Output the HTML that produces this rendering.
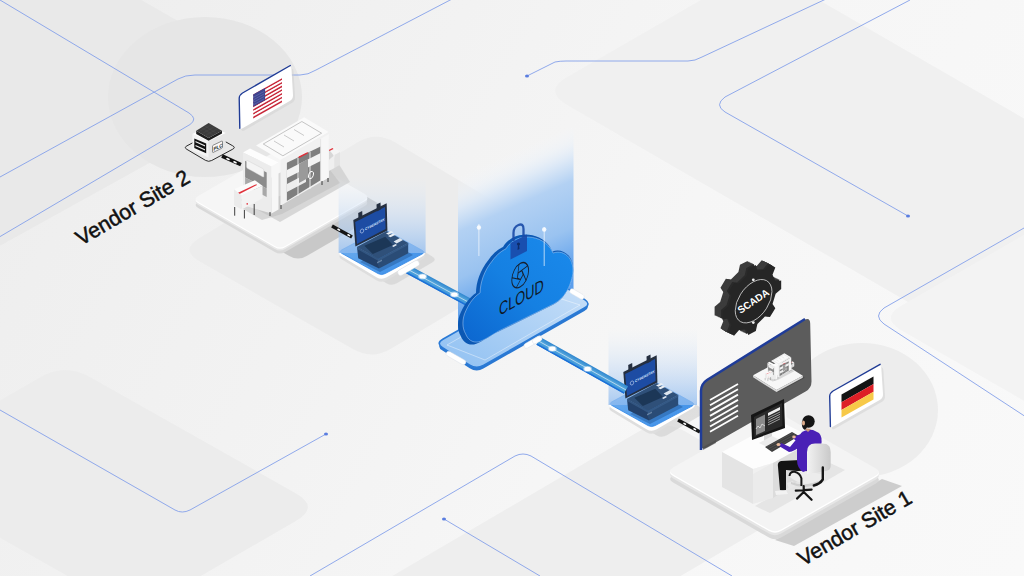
<!DOCTYPE html><html><head><meta charset="utf-8"><style>html,body{margin:0;padding:0;width:1024px;height:576px;overflow:hidden;background:#f0f0f0}svg{display:block}</style></head><body><svg width="1024" height="576" viewBox="0 0 1024 576">
<defs>
<linearGradient id="bg" x1="0" y1="0" x2="1024" y2="576" gradientUnits="userSpaceOnUse">
<stop offset="0" stop-color="#ededed"/><stop offset="0.35" stop-color="#f2f2f2"/><stop offset="0.6" stop-color="#f6f6f6"/><stop offset="1" stop-color="#f9f9f9"/></linearGradient>
<linearGradient id="glow" x1="0" y1="0" x2="0" y2="1">
<stop offset="0" stop-color="#e3edf9" stop-opacity="0"/><stop offset="0.5" stop-color="#c5daf4" stop-opacity="0.6"/><stop offset="1" stop-color="#8fbbef" stop-opacity="0.9"/></linearGradient>
<linearGradient id="glow2" gradientUnits="userSpaceOnUse" x1="505" y1="155" x2="560" y2="277">
<stop offset="0" stop-color="#f4f7fb" stop-opacity="0"/><stop offset="0.12" stop-color="#eaf1f9" stop-opacity="0.5"/><stop offset="0.22" stop-color="#dbe8f7" stop-opacity="0.9"/><stop offset="0.38" stop-color="#b3d1f3"/><stop offset="0.7" stop-color="#9ac3f0"/><stop offset="1" stop-color="#5b9eec"/></linearGradient>
<linearGradient id="cloudg" x1="0" y1="1" x2="1" y2="0">
<stop offset="0" stop-color="#0c66cf"/><stop offset="0.5" stop-color="#1580e2"/><stop offset="1" stop-color="#1a8aec"/></linearGradient>
<linearGradient id="platg" x1="0" y1="1" x2="1" y2="0">
<stop offset="0" stop-color="#8fc0f2"/><stop offset="1" stop-color="#c9e0f8"/></linearGradient>
<linearGradient id="blueface" x1="0" y1="0" x2="1" y2="1">
<stop offset="0" stop-color="#7ab4f0"/><stop offset="0.6" stop-color="#4f9bea"/><stop offset="1" stop-color="#3a8ce8"/></linearGradient>
<linearGradient id="barg" x1="0" y1="0" x2="0" y2="1">
<stop offset="0" stop-color="#2f86cf"/><stop offset="0.45" stop-color="#55a6dc"/><stop offset="1" stop-color="#3290da"/></linearGradient>
<linearGradient id="chairg" x1="0" y1="0" x2="1" y2="0">
<stop offset="0" stop-color="#f2f2f2"/><stop offset="1" stop-color="#c9c9c9"/></linearGradient>
<linearGradient id="gearg" x1="0" y1="0" x2="1" y2="1">
<stop offset="0" stop-color="#3a3a3a"/><stop offset="1" stop-color="#1c1c1c"/></linearGradient>
</defs>
<rect width="1024" height="576" fill="url(#bg)"/>
<path d="M-485.3 159.8Q-520.0 140.0 -485.0 120.6L-95.0 -95.6Q-60.0 -115.0 -25.3 -95.2L255.3 65.2Q290.0 85.0 255.0 104.4L-135.0 320.6Q-170.0 340.0 -204.7 320.2Z" fill="#e9e9e9"/>
<ellipse cx="205" cy="97" rx="97" ry="80" fill="#e6e6e6"/>
<path d="M199.1 260.9Q180.0 250.0 198.8 238.6L357.2 142.4Q376.0 131.0 394.9 142.2L547.1 232.8Q566.0 244.0 547.1 255.3L390.9 348.7Q372.0 360.0 352.9 349.1Z" fill="#ececec"/>
<path d="M567.2 105.0Q543.0 91.0 567.3 77.0L735.7 -20.0Q760.0 -34.0 784.2 -20.0L1275.8 264.0Q1300.0 278.0 1275.7 292.0L1107.3 389.0Q1083.0 403.0 1058.8 389.0Z" fill="#f0f0f0"/>
<path d="M-95.6 483.8Q-120.0 470.0 -95.8 456.0L40.8 377.0Q65.0 363.0 89.4 376.8L295.6 493.2Q320.0 507.0 295.8 521.0L159.2 600.0Q135.0 614.0 110.6 600.2Z" fill="#ececec"/>
<path d="M324.2 644.0Q300.0 630.0 324.2 615.9L637.8 432.1Q662.0 418.0 686.2 432.0L782.8 488.0Q807.0 502.0 782.8 516.1L469.2 699.9Q445.0 714.0 420.8 700.0Z" fill="#eeeeee"/>
<path d="M901.7 330.5Q880.0 318.0 901.7 305.5L1078.3 203.5Q1100.0 191.0 1121.7 203.5L1278.3 293.5Q1300.0 306.0 1278.3 318.5L1101.7 420.5Q1080.0 433.0 1058.3 420.5Z" fill="#f3f3f3"/>
<ellipse cx="862" cy="410" rx="76" ry="67" fill="#ededed"/>
<path d="M0 0 L189 113 Q198 119 190 124.5 L-10 242.5" fill="none" stroke="#84a0ea" stroke-width="0.9"/>
<path d="M0 177 L178 79 Q185 75 195 75 L300 75 Q308 75 316 70 L454 -2" fill="none" stroke="#84a0ea" stroke-width="0.9"/>
<path d="M527 76 L555 62 Q560 61 566 61 L688 61 Q695 61 702 57 L826 -1" fill="none" stroke="#84a0ea" stroke-width="0.9"/>
<path d="M910 0 L725 97 Q714 105 725 112 L908 216" fill="none" stroke="#84a0ea" stroke-width="0.9"/>
<ellipse cx="527" cy="76" rx="2" ry="1.5" fill="#5a7de0"/>
<ellipse cx="908" cy="216" rx="2" ry="1.5" fill="#5a7de0"/>
<path d="M1024 228 L884 308 Q873 316 884 324 L1026 417" fill="none" stroke="#84a0ea" stroke-width="0.9"/>
<path d="M0 410 L175 510 Q182 514 190 510 L326 434" fill="none" stroke="#84a0ea" stroke-width="0.9"/>
<ellipse cx="326" cy="434" rx="2" ry="1.5" fill="#5a7de0"/>
<path d="M310 576 L515 456 Q523 452 531 456 L732 576" fill="none" stroke="#84a0ea" stroke-width="0.9"/>
<path d="M444 519 L540 576" fill="none" stroke="#84a0ea" stroke-width="0.9"/>
<ellipse cx="444" cy="519" rx="2" ry="1.5" fill="#5a7de0"/>
<path d="M219.7 216.0Q211.0 211.0 219.7 206.0L292.3 164.0Q301.0 159.0 309.7 164.0L379.3 204.0Q388.0 209.0 379.3 214.0L306.7 256.0Q298.0 261.0 289.3 256.0Z" fill="#c2c2c2" opacity="0.85"/>
<path d="M198.2 208.0Q193.0 205.0 198.2 202.0L277.8 156.0Q283.0 153.0 288.2 156.0L364.8 200.0Q370.0 203.0 364.8 206.0L285.2 252.0Q280.0 255.0 274.8 252.0Z" fill="#d9d9d9"/>
<path d="M198.2 205.0Q193.0 202.0 198.2 199.0L277.8 153.0Q283.0 150.0 288.2 153.0L364.8 197.0Q370.0 200.0 364.8 203.0L285.2 249.0Q280.0 252.0 274.8 249.0Z" fill="#e8e8e8"/>
<path d="M198.2 203.2Q193.0 200.2 198.2 197.2L277.8 151.2Q283.0 148.2 288.2 151.2L364.8 195.2Q370.0 198.2 364.8 201.2L285.2 247.2Q280.0 250.2 274.8 247.2Z" fill="#ffffff"/>
<path d="M198.2 202.0Q193.0 199.0 198.2 196.0L277.8 150.0Q283.0 147.0 288.2 150.0L364.8 194.0Q370.0 197.0 364.8 200.0L285.2 246.0Q280.0 249.0 274.8 246.0Z" fill="#f6f6f6"/>
<polygon points="240.0,200.0 280.0,222.0 350.0,182.0 330.0,150.0 275.0,175.0" fill="#cfcfcf" opacity="0.8"/>
<path d="M186.8 149.3Q183.8 147.5 186.9 145.9L207.4 134.9Q210.5 133.3 213.6 135.0L232.7 145.8Q235.8 147.5 232.7 149.2L211.7 160.5Q208.6 162.2 205.6 160.4Z" fill="#e9e9e9" stroke="#161616" stroke-width="0.9"/>
<polygon points="192.4,134.1 208.6,141.2 208.6,157.5 192.4,150.3" fill="#f4f4f4"/>
<polygon points="208.6,141.2 225.8,133.1 225.8,147.9 208.6,157.5" fill="#e6e6e6"/>
<polygon points="192.4,134.1 208.6,126.0 225.8,133.1 208.6,141.2" fill="#ffffff"/>
<polygon points="196.2,130.7 196.2,134.1 208.6,140.8 222.0,133.6 222.0,130.7 208.6,137.9" fill="#1e1e1e"/>
<polygon points="196.2,130.7 208.6,123.1 222.0,130.7 208.6,137.9" fill="#3c3c3c"/>
<path d="M200 131 L211 125 M203 133 L214 127 M206 135 L217 129 M202 128 L213 135 M205 126 L216 133" stroke="#555" stroke-width="0.3"/>
<polygon points="194.3,138.4 206.2,143.6 206.2,153.2 194.3,147.9" fill="#111"/>
<polygon points="195.5,141.0 205.0,145.3 205.0,146.5 195.5,142.2" fill="#eee"/>
<polygon points="195.5,145.0 205.0,149.3 205.0,150.5 195.5,146.2" fill="#eee"/>
<path d="M212.5 146.5Q212.5 145.5 213.4 145.1L221.6 141.2Q222.5 140.8 222.5 141.8L222.5 146.9Q222.5 147.9 221.6 148.3L213.4 152.3Q212.5 152.7 212.5 151.7Z" fill="#fafafa" stroke="#222" stroke-width="0.5"/>
<text transform="matrix(0.9,-0.45,0,1,213.5,151)" font-family="Liberation Sans, sans-serif" font-weight="bold" font-size="5" fill="#111">PLC</text>
<path d="M222 156 L241 164.6" stroke="#111" stroke-width="3.6"/>
<path d="M227 158.6 L229 159.5 M234 161.8 L236 162.7" stroke="#fff" stroke-width="1.6" stroke-linecap="round"/>
<path d="M240.6 100.5Q240.5 96.5 244.0 94.6L289.8 69.1Q293.3 67.2 293.5 71.2L295.0 97.0Q295.2 101.0 291.7 103.0L244.6 130.3Q241.1 132.3 241.0 128.3Z" fill="#d0d0d0" opacity="0.5"/>
<path d="M238.6 98.5Q238.5 94.5 242.0 92.6L287.8 67.1Q291.3 65.2 291.5 69.2L293.0 95.0Q293.2 99.0 289.7 101.0L242.6 128.3Q239.1 130.3 239.0 126.3Z" fill="#ffffff"/>
<path d="M239.8 128.3 L239.2 98.5 Q239.2 95.0 242.5 93.0 L290.3 65.5" fill="none" stroke="#1f3b95" stroke-width="1.4" stroke-linecap="round"/>
<polygon points="253.2,94.5 282.0,78.2 282.0,80.0 253.2,96.3" fill="#c8283a"/>
<polygon points="253.2,96.3 282.0,80.0 282.0,81.9 253.2,98.2" fill="#ffffff"/>
<polygon points="253.2,98.2 282.0,81.9 282.0,83.7 253.2,100.0" fill="#c8283a"/>
<polygon points="253.2,100.0 282.0,83.7 282.0,85.6 253.2,101.9" fill="#ffffff"/>
<polygon points="253.2,101.9 282.0,85.6 282.0,87.4 253.2,103.7" fill="#c8283a"/>
<polygon points="253.2,103.7 282.0,87.4 282.0,89.3 253.2,105.6" fill="#ffffff"/>
<polygon points="253.2,105.6 282.0,89.3 282.0,91.1 253.2,107.4" fill="#c8283a"/>
<polygon points="253.2,107.4 282.0,91.1 282.0,93.0 253.2,109.3" fill="#ffffff"/>
<polygon points="253.2,109.3 282.0,93.0 282.0,94.8 253.2,111.1" fill="#c8283a"/>
<polygon points="253.2,111.1 282.0,94.8 282.0,96.7 253.2,113.0" fill="#ffffff"/>
<polygon points="253.2,113.0 282.0,96.7 282.0,98.5 253.2,114.8" fill="#c8283a"/>
<polygon points="253.2,114.8 282.0,98.5 282.0,100.4 253.2,116.7" fill="#ffffff"/>
<polygon points="253.2,116.7 282.0,100.4 282.0,102.2 253.2,118.5" fill="#c8283a"/>
<polygon points="253.2,94.5 265.1,88.0 265.1,100.3 253.2,106.8" fill="#3f4590"/>
<path d="M254 97 L264 91.5 M254 99.5 L264 94 M254 102 L264 96.5 M254 104.5 L264 99" stroke="#8d94c8" stroke-width="0.35"/>
<polygon points="236.0,205.0 262.0,220.0 282.0,214.0 340.0,183.0 330.0,170.0 280.0,196.0" fill="#bdbdbd" opacity="0.55"/>
<polygon points="256.0,145.4 304.2,117.3 328.8,131.9 280.5,160.1" fill="#fafafa"/>
<polygon points="280.5,160.1 328.8,131.9 328.8,177.5 280.5,205.7" fill="#f1f1f1"/>
<polygon points="263.3,144.0 301.9,121.5 321.6,133.2 282.9,155.8" fill="none" stroke="#8f8f8f" stroke-width="0.5"/>
<path d="M274.0 141.0 L284.0 147.0" stroke="#b5b5b5" stroke-width="0.7"/>
<path d="M284.0 135.0 L294.0 141.0" stroke="#b5b5b5" stroke-width="0.7"/>
<path d="M294.0 129.5 L304.0 135.5" stroke="#b5b5b5" stroke-width="0.7"/>
<polygon points="286.9,162.8 320.6,146.4 320.6,180.2 286.9,201.1" fill="#7f7f7f"/>
<polygon points="287.0,170.0 320.6,153.0 320.6,161.0 287.0,178.0" fill="#f3f3f3"/>
<polygon points="287.0,184.0 306.0,174.0 306.0,182.0 287.0,192.0" fill="#ededed"/>
<polygon points="299.0,164.0 308.0,159.0 308.0,178.0 299.0,183.0" fill="#9a9a9a"/>
<path d="M298 158 L298 196 M310 152 L310 189" stroke="#f5f5f5" stroke-width="0.9"/>
<ellipse cx="311" cy="175" rx="2.3" ry="3.8" transform="rotate(20 311 175)" fill="none" stroke="#fff" stroke-width="0.9"/>
<polygon points="298.7,156.5 307.8,151.9 307.8,153.6 298.7,158.2" fill="#e0303a"/>
<polygon points="320.6,139.0 328.8,134.0 328.8,177.5 320.6,182.0" fill="#f7f7f7"/>
<line x1="320.6" y1="139" x2="320.6" y2="182" stroke="#d5d5d5" stroke-width="0.5"/>
<polygon points="328.8,150.0 334.0,147.0 340.0,152.0 334.5,155.0" fill="#f5f5f5"/>
<polygon points="328.8,150.0 332.5,148.0 333.5,149.0 329.5,151.0" fill="#e0303a"/>
<polygon points="334.5,155.0 340.0,152.0 340.0,164.7 334.5,168.0" fill="#e3e3e3"/>
<polygon points="328.8,160.0 334.5,155.0 334.5,168.0 328.8,171.0" fill="#efefef"/>
<polygon points="243.0,152.5 250.0,148.5 278.5,162.5 271.5,166.4" fill="#fdfdfd"/>
<polygon points="243.0,152.5 271.5,166.4 271.5,213.6 243.0,205.3" fill="#ececec"/>
<polygon points="271.5,166.4 278.5,162.5 278.5,209.5 271.5,213.6" fill="#f7f7f7"/>
<polygon points="245.1,160.8 266.7,172.6 266.7,188.6 245.1,177.5" fill="#8b8b8b"/>
<path d="M246.5 161.2Q246.5 160.0 247.6 160.6L262.8 168.6Q263.9 169.2 263.9 170.4L263.9 176.3Q263.9 177.5 262.9 176.9L247.5 168.4Q246.5 167.8 246.5 166.6Z" fill="#f4f4f4" stroke="#c9c9c9" stroke-width="0.4"/>
<polygon points="245.1,177.5 266.7,188.6 266.7,197.0 245.1,186.0" fill="#a8a8a8"/>
<polygon points="234.0,189.3 254.9,180.3 262.5,185.8 241.7,195.6" fill="#fbfbfb"/>
<polygon points="236.5,193.6 256.3,184.2 257.0,185.0 238.0,194.8" fill="#e0303a"/>
<polygon points="234.0,189.3 241.7,195.6 241.7,209.4 234.0,205.3" fill="#ebebeb"/>
<polygon points="241.7,195.6 262.5,185.8 262.5,198.3 241.7,209.4" fill="#f3f3f3"/>
<circle cx="247.2" cy="203.9" r="0.8" fill="#e0303a"/>
<line x1="234.7" y1="207.0" x2="234.7" y2="215.7" stroke="#2a2a2a" stroke-width="0.9"/>
<line x1="244.4" y1="210.0" x2="244.4" y2="218.5" stroke="#2a2a2a" stroke-width="0.9"/>
<line x1="254.2" y1="204.0" x2="254.2" y2="215.0" stroke="#2a2a2a" stroke-width="0.9"/>
<line x1="270.0" y1="212.0" x2="270.0" y2="216.0" stroke="#2a2a2a" stroke-width="0.9"/>
<line x1="281.0" y1="205.0" x2="281.0" y2="209.0" stroke="#2a2a2a" stroke-width="0.9"/>
<line x1="322.0" y1="181.0" x2="322.0" y2="185.0" stroke="#2a2a2a" stroke-width="0.9"/>
<line x1="328.0" y1="178.0" x2="328.0" y2="182.0" stroke="#2a2a2a" stroke-width="0.9"/>
<path d="M351.9 262.6Q346.7 259.5 351.9 256.5L387.3 235.7Q392.5 232.7 397.7 235.8L432.2 256.4Q437.4 259.5 432.2 262.5L396.8 283.3Q391.6 286.3 386.4 283.2Z" fill="#cfcfcf" opacity="0.6"/>
<path d="M341.9 259.6Q336.7 256.5 341.9 253.5L377.3 232.7Q382.5 229.7 387.7 232.8L422.2 253.4Q427.4 256.5 422.2 259.5L386.8 280.3Q381.6 283.3 376.4 280.2Z" fill="#dedede"/>
<path d="M341.9 256.6Q336.7 253.5 341.9 250.5L377.3 229.7Q382.5 226.7 387.7 229.8L422.2 250.4Q427.4 253.5 422.2 256.5L386.8 277.3Q381.6 280.3 376.4 277.2Z" fill="#ffffff"/>
<path d="M342.1 253.5Q338.6 251.6 342.1 249.7L379.0 230.2Q382.5 228.3 386.0 230.2L422.0 250.3Q425.5 252.2 422.0 254.1L385.1 273.6Q381.6 275.5 378.1 273.6Z" fill="url(#blueface)" stroke="#2c84e6" stroke-width="0.8"/>
<path d="M621.9 414.6Q616.7 411.5 621.9 408.5L657.3 387.7Q662.5 384.7 667.7 387.8L702.2 408.4Q707.4 411.5 702.2 414.5L666.8 435.3Q661.6 438.3 656.4 435.2Z" fill="#cfcfcf" opacity="0.6"/>
<path d="M611.9 411.6Q606.7 408.5 611.9 405.5L647.3 384.7Q652.5 381.7 657.7 384.8L692.2 405.4Q697.4 408.5 692.2 411.5L656.8 432.3Q651.6 435.3 646.4 432.2Z" fill="#dedede"/>
<path d="M611.9 408.6Q606.7 405.5 611.9 402.5L647.3 381.7Q652.5 378.7 657.7 381.8L692.2 402.4Q697.4 405.5 692.2 408.5L656.8 429.3Q651.6 432.3 646.4 429.2Z" fill="#ffffff"/>
<path d="M612.1 405.5Q608.6 403.6 612.1 401.7L649.0 382.2Q652.5 380.3 656.0 382.2L692.0 402.3Q695.5 404.2 692.0 406.1L655.1 425.6Q651.6 427.5 648.1 425.6Z" fill="url(#blueface)" stroke="#2c84e6" stroke-width="0.8"/>
<rect x="338.6" y="176" width="87" height="77" fill="url(#glow)" opacity="0.85"/>
<rect x="608.5" y="328" width="88.5" height="77" fill="url(#glow)" opacity="0.85"/>
<path d="M332 226 L352 237" stroke="#161616" stroke-width="3.5"/>
<path d="M338 229.3 L339.5 230.1 M348 234.8 L349.5 235.6" stroke="#fff" stroke-width="1.6" stroke-linecap="round"/>
<polygon points="360.0,262.0 380.0,272.0 413.0,255.0 395.0,244.0" fill="#123f7a" opacity="0.35"/><polygon points="357.0,247.0 378.5,259.0 379.0,268.5 358.2,258.2" fill="#23416a"/><polygon points="378.5,259.0 408.2,243.0 408.2,253.3 379.0,268.5" fill="#2a4c76"/><polygon points="357.0,247.0 378.5,259.0 408.2,243.0 408.2,245.0 378.5,261.0 357.0,249.0" fill="#3a5f8c" opacity="0.7"/><polygon points="356.8,247.0 386.7,231.0 408.2,243.0 378.3,258.9" fill="#2f5079"/><polygon points="364.4,245.7 385.3,236.7 393.0,245.0 372.8,254.0" fill="#1c3757"/><polygon points="386.0,233.5 391.0,231.0 393.5,232.3 388.5,234.8" fill="#e8eef5"/><polygon points="388.0,236.0 393.0,233.5 395.5,234.8 390.5,237.3" fill="#e8eef5"/><polygon points="393.6,241.5 400.0,238.0 403.0,240.0 396.6,243.5" fill="#dfe7f0"/><polygon points="392.0,246.0 395.5,244.0 397.0,245.0 393.5,247.0" fill="#dfe7f0"/><polygon points="377.0,262.0 382.0,259.5 382.0,261.0 377.0,263.5" fill="#8fa6c2" opacity="0.6"/><polygon points="353.3,220.0 386.7,203.3 387.4,230.4 355.4,246.4" fill="#252f40"/><polygon points="355.2,222.0 385.0,207.0 385.6,229.0 357.0,244.0" fill="#1d4ca3"/><polygon points="358.2,213.0 362.2,211.0 362.5,218.0 358.5,220.0" fill="#252f40"/><polygon points="376.5,204.5 380.5,202.5 380.8,209.5 376.8,211.5" fill="#252f40"/><text transform="matrix(0.89,-0.46,0,1,365.0,230.5)" font-family="Liberation Sans, sans-serif" font-weight="bold" font-size="3.6" fill="#dbe6ff">CYBERSTAK</text><ellipse cx="362.0" cy="231.0" rx="1.6" ry="2.2" transform="rotate(25 362.0 231.0)" fill="none" stroke="#dbe6ff" stroke-width="0.5"/>
<polygon points="630.0,414.0 650.0,424.0 683.0,407.0 665.0,396.0" fill="#123f7a" opacity="0.35"/><polygon points="627.0,399.0 648.5,411.0 649.0,420.5 628.2,410.2" fill="#23416a"/><polygon points="648.5,411.0 678.2,395.0 678.2,405.3 649.0,420.5" fill="#2a4c76"/><polygon points="627.0,399.0 648.5,411.0 678.2,395.0 678.2,397.0 648.5,413.0 627.0,401.0" fill="#3a5f8c" opacity="0.7"/><polygon points="626.8,399.0 656.7,383.0 678.2,395.0 648.3,410.9" fill="#2f5079"/><polygon points="634.4,397.7 655.3,388.7 663.0,397.0 642.8,406.0" fill="#1c3757"/><polygon points="656.0,385.5 661.0,383.0 663.5,384.3 658.5,386.8" fill="#e8eef5"/><polygon points="658.0,388.0 663.0,385.5 665.5,386.8 660.5,389.3" fill="#e8eef5"/><polygon points="663.6,393.5 670.0,390.0 673.0,392.0 666.6,395.5" fill="#dfe7f0"/><polygon points="662.0,398.0 665.5,396.0 667.0,397.0 663.5,399.0" fill="#dfe7f0"/><polygon points="647.0,414.0 652.0,411.5 652.0,413.0 647.0,415.5" fill="#8fa6c2" opacity="0.6"/><polygon points="623.3,372.0 656.7,355.3 657.4,382.4 625.4,398.4" fill="#252f40"/><polygon points="625.2,374.0 655.0,359.0 655.6,381.0 627.0,396.0" fill="#1d4ca3"/><polygon points="628.2,365.0 632.2,363.0 632.5,370.0 628.5,372.0" fill="#252f40"/><polygon points="646.5,356.5 650.5,354.5 650.8,361.5 646.8,363.5" fill="#252f40"/><text transform="matrix(0.89,-0.46,0,1,635.0,382.5)" font-family="Liberation Sans, sans-serif" font-weight="bold" font-size="3.6" fill="#dbe6ff">CYBERSTAK</text><ellipse cx="632.0" cy="383.0" rx="1.6" ry="2.2" transform="rotate(25 632.0 383.0)" fill="none" stroke="#dbe6ff" stroke-width="0.5"/>
<path d="M458 120 L573.5 120 L573.5 292.5 L550.8 277.8 L458 330.7 Z" fill="url(#glow2)"/>
<path d="M442.5 350.6Q435.8 346.3 442.8 342.3L543.8 284.8Q550.8 280.8 557.5 285.1L584.7 302.7Q591.4 307.0 584.4 311.0L483.4 368.5Q476.4 372.5 469.7 368.2Z" fill="#2a78d2"/>
<path d="M442.5 347.6Q435.8 343.3 442.8 339.3L543.8 281.8Q550.8 277.8 557.5 282.1L584.7 299.7Q591.4 304.0 584.4 308.0L483.4 365.5Q476.4 369.5 469.7 365.2Z" fill="url(#platg)" stroke="#2a7ad6" stroke-width="1.6"/>
<polygon points="447.0,345.0 540.0,292.0 580.0,305.0 485.0,360.0" fill="none" stroke="#ffffff" stroke-width="0.5" opacity="0.8"/>
<g transform="translate(408.0 269.5) rotate(28.38)"><rect x="0" y="-4.25" width="70.5" height="8.50" fill="url(#barg)"/><rect x="0" y="2.95" width="70.5" height="1.3" fill="#1c6fd8"/><line x1="0" y1="0" x2="70.5" y2="0" stroke="#ffffff" stroke-width="0.6" opacity="0.85"/></g>
<g transform="translate(538.5 341.0) rotate(29.25)"><rect x="0" y="-4.25" width="100.3" height="8.50" fill="url(#barg)"/><rect x="0" y="2.95" width="100.3" height="1.3" fill="#1c6fd8"/><line x1="0" y1="0" x2="100.3" y2="0" stroke="#ffffff" stroke-width="0.6" opacity="0.85"/></g>
<ellipse cx="422.6" cy="276.4" rx="4.5" ry="3" fill="#ffffff" opacity="0.45"/>
<ellipse cx="422.6" cy="276.4" rx="3.3" ry="2.2" fill="#ffffff"/>
<ellipse cx="454.4" cy="294.6" rx="4.5" ry="3" fill="#ffffff" opacity="0.45"/>
<ellipse cx="454.4" cy="294.6" rx="3.3" ry="2.2" fill="#ffffff"/>
<ellipse cx="552.3" cy="348.8" rx="4.5" ry="3" fill="#ffffff" opacity="0.45"/>
<ellipse cx="552.3" cy="348.8" rx="3.3" ry="2.2" fill="#ffffff"/>
<ellipse cx="587.6" cy="368.9" rx="4.5" ry="3" fill="#ffffff" opacity="0.45"/>
<ellipse cx="587.6" cy="368.9" rx="3.3" ry="2.2" fill="#ffffff"/>
<rect x="396.5" y="265.0" width="24" height="6" rx="3.0" transform="rotate(-30 408.5 268)" fill="#ffffff" stroke="#d4dbe4" stroke-width="0.4"/>
<rect x="445.0" y="355.5" width="22" height="5" rx="2.5" transform="rotate(30 456 358)" fill="#ffffff" stroke="#d4dbe4" stroke-width="0.4"/>
<rect x="523.0" y="339.5" width="20" height="5" rx="2.5" transform="rotate(-30 533 342)" fill="#ffffff" stroke="#d4dbe4" stroke-width="0.4"/>
<rect x="569.0" y="291.5" width="16" height="5" rx="2.5" transform="rotate(30 577 294)" fill="#ffffff" stroke="#d4dbe4" stroke-width="0.4"/>
<rect x="532.0" y="337.5" width="10" height="5" rx="2.5" transform="rotate(-30 537 340)" fill="#ffffff" stroke="#d4dbe4" stroke-width="0.4"/>
<path d="M460.8 336 C457 330 457 320 461 312 C465 303 470 297 476 293 C476 283 480 270 488.6 259.7 C494 252 499.7 248.6 503 247 C507 240 515 235 523.3 234.7 C533 234 544 238 550 247 L552.5 251.4 C558 249 565 251 569 256 C574 262 574 272 572 278 C570 286 567 291 566.4 291.7 C563 298 558 302 553 304.8 L495.6 333 C487 338 480 343 474 344.4 C468 345.5 463 342 460.8 336 Z" fill="#0b58b4"/>
<path d="M460.8 336 C457 330 457 320 461 312 C465 303 470 297 476 293 C476 283 480 270 488.6 259.7 C494 252 499.7 248.6 503 247 C507 240 515 235 523.3 234.7 C533 234 544 238 550 247 L552.5 251.4 C558 249 565 251 569 256 C574 262 574 272 572 278 C570 286 567 291 566.4 291.7 C563 298 558 302 553 304.8 L495.6 333 C487 338 480 343 474 344.4 C468 345.5 463 342 460.8 336 Z" transform="translate(568,288) scale(0.955) translate(-568,-288)" fill="url(#cloudg)" stroke="#cfe6ff" stroke-width="0.6" stroke-opacity="0.75"/>
<path d="M513.5 241 L513.5 233 Q513.5 227 518.5 225 Q523.5 223 523.5 229 L523.5 237" fill="none" stroke="#1a4aa6" stroke-width="2.3" opacity="0.9"/>
<polygon points="510.5,243.0 527.0,234.5 527.0,251.0 510.5,259.5" fill="#1a49a8" opacity="0.9"/>
<path d="M518.5 244 m-1.6 0 a1.6 1.6 0 1 0 3.2 0 a1.6 1.6 0 1 0 -3.2 0 M518 245 L517.5 250 L519.5 249 L519 244.5Z" fill="#0d2c6a"/>
<line x1="478.9" y1="224" x2="478.9" y2="256" stroke="#ffffff" stroke-width="0.9" opacity="0.75"/>
<line x1="544.2" y1="227" x2="544.2" y2="266" stroke="#ffffff" stroke-width="0.9" opacity="0.75"/>
<circle cx="478.9" cy="227.5" r="2.2" fill="#ffffff" opacity="0.85"/><circle cx="544.2" cy="229.5" r="2.2" fill="#ffffff" opacity="0.85"/>
<g transform="matrix(0.80,-0.45,0,1.12,520.2,275.2)"><circle r="10.5" fill="none" stroke="#17202e" stroke-width="1.1"/><path d="M0.00 3.80 L-10.34 -1.82 M0.00 3.80 L-3.61 1.17 M-3.61 1.17 L-1.46 -10.40 M-3.61 1.17 L-2.23 -3.07 M-2.23 -3.07 L9.44 -4.60 M-2.23 -3.07 L2.23 -3.07 M2.23 -3.07 L7.29 7.55 M2.23 -3.07 L3.61 1.17 M3.61 1.17 L-4.93 9.27 M3.61 1.17 L0.00 3.80 " fill="none" stroke="#17202e" stroke-width="0.9"/></g>
<text transform="matrix(0.80,-0.45,0,1.12,499,316)" font-family="Liberation Sans, sans-serif" font-size="16" fill="#0f1826">CLOUD</text>
<polygon points="775.0,540.0 882.0,479.0 902.0,486.0 794.0,546.0" fill="#c6c6c6" opacity="0.85"/>
<path d="M673.1 482.5Q667.0 479.0 673.1 475.5L767.9 421.5Q774.0 418.0 780.1 421.5L875.9 476.5Q882.0 480.0 875.9 483.5L781.1 537.5Q775.0 541.0 768.9 537.5Z" fill="#d9d9d9"/>
<path d="M673.1 478.5Q667.0 475.0 673.1 471.5L767.9 417.5Q774.0 414.0 780.1 417.5L875.9 472.5Q882.0 476.0 875.9 479.5L781.1 533.5Q775.0 537.0 768.9 533.5Z" fill="#e6e6e6"/>
<path d="M673.1 476.0Q667.0 472.5 673.1 469.0L767.9 415.0Q774.0 411.5 780.1 415.0L875.9 470.0Q882.0 473.5 875.9 477.0L781.1 531.0Q775.0 534.5 768.9 531.0Z" fill="#ffffff"/>
<path d="M673.1 474.5Q667.0 471.0 673.1 467.5L767.9 413.5Q774.0 410.0 780.1 413.5L875.9 468.5Q882.0 472.0 875.9 475.5L781.1 529.5Q775.0 533.0 768.9 529.5Z" fill="#f4f4f4"/>
<path d="M678 420 L700 432" stroke="#161616" stroke-width="3.5"/>
<path d="M684 423.4 L685.5 424.2 M694 428.8 L695.5 429.6" stroke="#fff" stroke-width="1.6" stroke-linecap="round"/>
<path d="M700.8 391.0Q700.8 384.0 706.8 380.3L804.0 320.2Q810.0 316.5 810.2 323.5L811.5 381.0Q811.7 388.0 805.6 391.5L706.9 447.5Q700.8 451.0 700.8 444.0Z" fill="#5c5c5c"/>
<path d="M701 450 L701 391 Q701 384 707 380 L805 319" fill="none" stroke="#1f3c99" stroke-width="2.5"/>
<polygon points="703.0,447.0 716.0,440.0 716.0,443.0 703.0,450.0" fill="#4a4a4a" opacity="0.6"/>
<line x1="710" y1="400.0" x2="738" y2="384.0" stroke="#ffffff" stroke-width="1.8"/>
<line x1="710" y1="405.3" x2="738" y2="389.3" stroke="#ffffff" stroke-width="1.8"/>
<line x1="710" y1="410.6" x2="738" y2="394.6" stroke="#ffffff" stroke-width="1.8"/>
<line x1="710" y1="415.9" x2="738" y2="399.9" stroke="#ffffff" stroke-width="1.8"/>
<line x1="710" y1="421.2" x2="738" y2="405.2" stroke="#ffffff" stroke-width="1.8"/>
<line x1="710" y1="426.5" x2="738" y2="410.5" stroke="#ffffff" stroke-width="1.8"/>
<line x1="710" y1="431.8" x2="738" y2="415.8" stroke="#ffffff" stroke-width="1.8"/>
<polygon points="755.1,377.3 781.4,363.0 804.8,377.8 778.5,392.1" fill="#4a4a4a"/>
<polygon points="753.1,375.3 753.1,377.3 776.5,392.1 802.8,377.8 802.8,375.8 776.5,390.1" fill="#d8d8d8"/>
<polygon points="753.1,375.3 779.4,361.0 802.8,375.8 776.5,390.1" fill="#f7f7f7"/>
<g transform="translate(700.4 320.8) scale(0.276)"><polygon points="236.0,205.0 262.0,220.0 282.0,214.0 340.0,183.0 330.0,170.0 280.0,196.0" fill="#bdbdbd" opacity="0.55"/><polygon points="256.0,145.4 304.2,117.3 328.8,131.9 280.5,160.1" fill="#fafafa"/><polygon points="280.5,160.1 328.8,131.9 328.8,177.5 280.5,205.7" fill="#f1f1f1"/><polygon points="263.3,144.0 301.9,121.5 321.6,133.2 282.9,155.8" fill="none" stroke="#8f8f8f" stroke-width="0.5"/><path d="M274.0 141.0 L284.0 147.0" stroke="#b5b5b5" stroke-width="0.7"/><path d="M284.0 135.0 L294.0 141.0" stroke="#b5b5b5" stroke-width="0.7"/><path d="M294.0 129.5 L304.0 135.5" stroke="#b5b5b5" stroke-width="0.7"/><polygon points="286.9,162.8 320.6,146.4 320.6,180.2 286.9,201.1" fill="#7f7f7f"/><polygon points="287.0,170.0 320.6,153.0 320.6,161.0 287.0,178.0" fill="#f3f3f3"/><polygon points="287.0,184.0 306.0,174.0 306.0,182.0 287.0,192.0" fill="#ededed"/><polygon points="299.0,164.0 308.0,159.0 308.0,178.0 299.0,183.0" fill="#9a9a9a"/><path d="M298 158 L298 196 M310 152 L310 189" stroke="#f5f5f5" stroke-width="0.9"/><ellipse cx="311" cy="175" rx="2.3" ry="3.8" transform="rotate(20 311 175)" fill="none" stroke="#fff" stroke-width="0.9"/><polygon points="298.7,156.5 307.8,151.9 307.8,153.6 298.7,158.2" fill="#e0303a"/><polygon points="320.6,139.0 328.8,134.0 328.8,177.5 320.6,182.0" fill="#f7f7f7"/><line x1="320.6" y1="139" x2="320.6" y2="182" stroke="#d5d5d5" stroke-width="0.5"/><polygon points="328.8,150.0 334.0,147.0 340.0,152.0 334.5,155.0" fill="#f5f5f5"/><polygon points="328.8,150.0 332.5,148.0 333.5,149.0 329.5,151.0" fill="#e0303a"/><polygon points="334.5,155.0 340.0,152.0 340.0,164.7 334.5,168.0" fill="#e3e3e3"/><polygon points="328.8,160.0 334.5,155.0 334.5,168.0 328.8,171.0" fill="#efefef"/><polygon points="243.0,152.5 250.0,148.5 278.5,162.5 271.5,166.4" fill="#fdfdfd"/><polygon points="243.0,152.5 271.5,166.4 271.5,213.6 243.0,205.3" fill="#ececec"/><polygon points="271.5,166.4 278.5,162.5 278.5,209.5 271.5,213.6" fill="#f7f7f7"/><polygon points="245.1,160.8 266.7,172.6 266.7,188.6 245.1,177.5" fill="#8b8b8b"/><path d="M246.5 161.2Q246.5 160.0 247.6 160.6L262.8 168.6Q263.9 169.2 263.9 170.4L263.9 176.3Q263.9 177.5 262.9 176.9L247.5 168.4Q246.5 167.8 246.5 166.6Z" fill="#f4f4f4" stroke="#c9c9c9" stroke-width="0.4"/><polygon points="245.1,177.5 266.7,188.6 266.7,197.0 245.1,186.0" fill="#a8a8a8"/><polygon points="234.0,189.3 254.9,180.3 262.5,185.8 241.7,195.6" fill="#fbfbfb"/><polygon points="236.5,193.6 256.3,184.2 257.0,185.0 238.0,194.8" fill="#e0303a"/><polygon points="234.0,189.3 241.7,195.6 241.7,209.4 234.0,205.3" fill="#ebebeb"/><polygon points="241.7,195.6 262.5,185.8 262.5,198.3 241.7,209.4" fill="#f3f3f3"/><circle cx="247.2" cy="203.9" r="0.8" fill="#e0303a"/><line x1="234.7" y1="207.0" x2="234.7" y2="215.7" stroke="#2a2a2a" stroke-width="0.9"/><line x1="244.4" y1="210.0" x2="244.4" y2="218.5" stroke="#2a2a2a" stroke-width="0.9"/><line x1="254.2" y1="204.0" x2="254.2" y2="215.0" stroke="#2a2a2a" stroke-width="0.9"/><line x1="270.0" y1="212.0" x2="270.0" y2="216.0" stroke="#2a2a2a" stroke-width="0.9"/><line x1="281.0" y1="205.0" x2="281.0" y2="209.0" stroke="#2a2a2a" stroke-width="0.9"/><line x1="322.0" y1="181.0" x2="322.0" y2="185.0" stroke="#2a2a2a" stroke-width="0.9"/><line x1="328.0" y1="178.0" x2="328.0" y2="182.0" stroke="#2a2a2a" stroke-width="0.9"/></g>
<polygon points="755.0,506.0 830.0,463.0 845.0,470.0 770.0,513.0" fill="#dadada" opacity="0.6"/>
<polygon points="722.0,452.0 779.0,421.0 830.0,446.0 753.0,469.0" fill="#fdfdfd"/>
<polygon points="722.0,452.0 753.0,469.0 753.0,504.0 722.0,487.0" fill="#e4e4e4"/>
<polygon points="753.0,469.0 830.0,446.0 830.0,451.0 753.0,474.0" fill="#f0f0f0"/>
<polygon points="753.0,474.0 773.0,463.0 773.0,498.0 753.0,504.0" fill="#ebebeb"/>
<polygon points="773.0,463.0 800.0,448.0 800.0,480.0 773.0,498.0" fill="#dcdcdc"/>
<polygon points="764.0,434.0 772.0,430.0 772.0,439.0 764.0,443.0" fill="#d9d9d9"/>
<polygon points="759.0,443.0 772.0,436.0 780.0,440.0 767.0,447.0" fill="#ececec"/>
<polygon points="751.0,415.0 784.0,399.0 785.0,428.0 752.0,440.0" fill="#151515"/>
<polygon points="754.0,417.0 782.0,403.0 782.5,426.0 754.5,437.0" fill="#2a2a2a"/>
<polygon points="756.0,419.0 765.0,414.5 765.0,431.0 756.0,435.0" fill="#8a8a8a"/>
<path d="M756 429 L758 426 L760 428 L762 424 L765 426" stroke="#fff" stroke-width="0.6" fill="none"/>
<polygon points="768.0,413.0 780.0,407.0 780.0,410.0 768.0,416.0" fill="#f0f0f0"/>
<line x1="768" y1="418.0" x2="780" y2="412.0" stroke="#bdbdbd" stroke-width="0.8"/>
<line x1="768" y1="420.3" x2="780" y2="414.3" stroke="#bdbdbd" stroke-width="0.8"/>
<line x1="768" y1="422.6" x2="780" y2="416.6" stroke="#bdbdbd" stroke-width="0.8"/>
<line x1="768" y1="424.9" x2="780" y2="418.9" stroke="#bdbdbd" stroke-width="0.8"/>
<polygon points="765.0,447.0 792.0,432.0 799.0,436.0 772.0,452.0" fill="#3d3d3d"/>
<path d="M767 447 L793 433 M769 448.5 L795 434.5 M771 450 L797 436" stroke="#777" stroke-width="0.3"/>
<path d="M800 460 L781 461 Q777 462 778 467 L780 490 L786 491 L786 470 L808 472 Z" fill="#131313"/>
<path d="M775 491 L786 490 L788 494 L776 495 Z" fill="#f2f2f2"/>
<path d="M787 483 L793 481 L795 487 L789 489 Z" fill="#e8e8e8"/>
<path d="M790 474 Q796 470 806 471 L825 475 Q826 479 822 481 L806 484 Q795 482 790 477 Z" fill="#ececec"/>
<path d="M791 482 Q806 488 823 479 L823 481 Q806 491 791 484 Z" fill="#cfcfcf"/>
<path d="M789.5 476 Q790 471.5 794.5 471.8 Q800 473 801.4 478.3 L801.4 486" fill="none" stroke="#151515" stroke-width="2"/>
<path d="M803.7 486 L803.7 492 M795.8 490.7 L811.6 489.6 M803.7 492 L797 498.6 M803.7 492 L811.6 499.8" stroke="#151515" stroke-width="2.2" stroke-linecap="round"/>
<path d="M801 433 Q806 429 813 430 L819 433 Q823 437 821 446 L815 468 L803 472 Q797 468 797 460 L797 442 Z" fill="#4a20b6"/>
<path d="M801 436 Q795 440 790 447 L781 443 L779 446 L789 452 Q794 452 803 444 Z" fill="#4a20b6"/>
<path d="M806 432 L796 436 L793 438 L796 441 L806 437 Z" fill="#4a20b6"/>
<ellipse cx="778.5" cy="444.5" rx="2" ry="1.6" fill="#e8b99a"/>
<ellipse cx="794" cy="437" rx="1.8" ry="1.4" fill="#e8b99a"/>
<path d="M807 474 L807 452 Q807 443.4 815 443.4 L823 443.4 Q830.7 443.4 830.7 452 L830.7 466 Q830.7 470 826 471 Z" fill="url(#chairg)"/>
<path d="M822.8 467.5 L822.8 479.5 Q820 484 813.8 485.5" fill="none" stroke="#151515" stroke-width="2.4" stroke-linecap="round"/>
<path d="M804 428 L808 432 L811 429 Z" fill="#c9977a"/>
<circle cx="808.5" cy="421.5" r="6.2" fill="#141414"/>
<path d="M802 421 Q801 428 805 430 L808 426 Z" fill="#141414"/>
<ellipse cx="803.5" cy="423" rx="1.5" ry="2.5" fill="#e0ad8c"/>
<path d="M-6.23 -27.30 L-4.41 -33.71 L4.38 -33.72 L6.21 -27.30 L14.90 -23.71 L20.72 -26.95 L26.94 -20.74 L23.69 -14.92 L27.30 -6.23 L33.71 -4.41 L33.72 4.38 L27.30 6.21 L23.71 14.90 L26.95 20.72 L20.74 26.94 L14.92 23.69 L6.23 27.30 L4.41 33.71 L-4.38 33.72 L-6.21 27.30 L-14.90 23.71 L-20.72 26.95 L-26.94 20.74 L-23.69 14.92 L-27.30 6.23 L-33.71 4.41 L-33.72 -4.38 L-27.30 -6.21 L-23.71 -14.90 L-26.95 -20.72 L-20.74 -26.94 L-14.92 -23.69Z" transform="matrix(0.866,-0.45,0,0.98,743.8,295.9)" fill="#3c3c3c"/>
<path d="M-6.23 -27.30 L-4.41 -33.71 L4.38 -33.72 L6.21 -27.30 L14.90 -23.71 L20.72 -26.95 L26.94 -20.74 L23.69 -14.92 L27.30 -6.23 L33.71 -4.41 L33.72 4.38 L27.30 6.21 L23.71 14.90 L26.95 20.72 L20.74 26.94 L14.92 23.69 L6.23 27.30 L4.41 33.71 L-4.38 33.72 L-6.21 27.30 L-14.90 23.71 L-20.72 26.95 L-26.94 20.74 L-23.69 14.92 L-27.30 6.23 L-33.71 4.41 L-33.72 -4.38 L-27.30 -6.21 L-23.71 -14.90 L-26.95 -20.72 L-20.74 -26.94 L-14.92 -23.69Z" transform="matrix(0.866,-0.45,0,0.98,744.7,296.4)" fill="#3c3c3c"/>
<path d="M-6.23 -27.30 L-4.41 -33.71 L4.38 -33.72 L6.21 -27.30 L14.90 -23.71 L20.72 -26.95 L26.94 -20.74 L23.69 -14.92 L27.30 -6.23 L33.71 -4.41 L33.72 4.38 L27.30 6.21 L23.71 14.90 L26.95 20.72 L20.74 26.94 L14.92 23.69 L6.23 27.30 L4.41 33.71 L-4.38 33.72 L-6.21 27.30 L-14.90 23.71 L-20.72 26.95 L-26.94 20.74 L-23.69 14.92 L-27.30 6.23 L-33.71 4.41 L-33.72 -4.38 L-27.30 -6.21 L-23.71 -14.90 L-26.95 -20.72 L-20.74 -26.94 L-14.92 -23.69Z" transform="matrix(0.866,-0.45,0,0.98,745.6,296.8)" fill="#3c3c3c"/>
<path d="M-6.23 -27.30 L-4.41 -33.71 L4.38 -33.72 L6.21 -27.30 L14.90 -23.71 L20.72 -26.95 L26.94 -20.74 L23.69 -14.92 L27.30 -6.23 L33.71 -4.41 L33.72 4.38 L27.30 6.21 L23.71 14.90 L26.95 20.72 L20.74 26.94 L14.92 23.69 L6.23 27.30 L4.41 33.71 L-4.38 33.72 L-6.21 27.30 L-14.90 23.71 L-20.72 26.95 L-26.94 20.74 L-23.69 14.92 L-27.30 6.23 L-33.71 4.41 L-33.72 -4.38 L-27.30 -6.21 L-23.71 -14.90 L-26.95 -20.72 L-20.74 -26.94 L-14.92 -23.69Z" transform="matrix(0.866,-0.45,0,0.98,746.5,297.2)" fill="#3c3c3c"/>
<path d="M-6.23 -27.30 L-4.41 -33.71 L4.38 -33.72 L6.21 -27.30 L14.90 -23.71 L20.72 -26.95 L26.94 -20.74 L23.69 -14.92 L27.30 -6.23 L33.71 -4.41 L33.72 4.38 L27.30 6.21 L23.71 14.90 L26.95 20.72 L20.74 26.94 L14.92 23.69 L6.23 27.30 L4.41 33.71 L-4.38 33.72 L-6.21 27.30 L-14.90 23.71 L-20.72 26.95 L-26.94 20.74 L-23.69 14.92 L-27.30 6.23 L-33.71 4.41 L-33.72 -4.38 L-27.30 -6.21 L-23.71 -14.90 L-26.95 -20.72 L-20.74 -26.94 L-14.92 -23.69Z" transform="matrix(0.866,-0.45,0,0.98,747.4,297.7)" fill="#3c3c3c"/>
<path d="M-6.23 -27.30 L-4.41 -33.71 L4.38 -33.72 L6.21 -27.30 L14.90 -23.71 L20.72 -26.95 L26.94 -20.74 L23.69 -14.92 L27.30 -6.23 L33.71 -4.41 L33.72 4.38 L27.30 6.21 L23.71 14.90 L26.95 20.72 L20.74 26.94 L14.92 23.69 L6.23 27.30 L4.41 33.71 L-4.38 33.72 L-6.21 27.30 L-14.90 23.71 L-20.72 26.95 L-26.94 20.74 L-23.69 14.92 L-27.30 6.23 L-33.71 4.41 L-33.72 -4.38 L-27.30 -6.21 L-23.71 -14.90 L-26.95 -20.72 L-20.74 -26.94 L-14.92 -23.69Z" transform="matrix(0.866,-0.45,0,0.98,748.3,298.1)" fill="#3c3c3c"/>
<path d="M-6.23 -27.30 L-4.41 -33.71 L4.38 -33.72 L6.21 -27.30 L14.90 -23.71 L20.72 -26.95 L26.94 -20.74 L23.69 -14.92 L27.30 -6.23 L33.71 -4.41 L33.72 4.38 L27.30 6.21 L23.71 14.90 L26.95 20.72 L20.74 26.94 L14.92 23.69 L6.23 27.30 L4.41 33.71 L-4.38 33.72 L-6.21 27.30 L-14.90 23.71 L-20.72 26.95 L-26.94 20.74 L-23.69 14.92 L-27.30 6.23 L-33.71 4.41 L-33.72 -4.38 L-27.30 -6.21 L-23.71 -14.90 L-26.95 -20.72 L-20.74 -26.94 L-14.92 -23.69Z" transform="matrix(0.866,-0.45,0,0.98,749.2,298.6)" fill="#3c3c3c"/>
<path d="M-6.23 -27.30 L-4.41 -33.71 L4.38 -33.72 L6.21 -27.30 L14.90 -23.71 L20.72 -26.95 L26.94 -20.74 L23.69 -14.92 L27.30 -6.23 L33.71 -4.41 L33.72 4.38 L27.30 6.21 L23.71 14.90 L26.95 20.72 L20.74 26.94 L14.92 23.69 L6.23 27.30 L4.41 33.71 L-4.38 33.72 L-6.21 27.30 L-14.90 23.71 L-20.72 26.95 L-26.94 20.74 L-23.69 14.92 L-27.30 6.23 L-33.71 4.41 L-33.72 -4.38 L-27.30 -6.21 L-23.71 -14.90 L-26.95 -20.72 L-20.74 -26.94 L-14.92 -23.69Z" transform="matrix(0.866,-0.45,0,0.98,750.1,299.1)" fill="#2a2a2a"/>
<path d="M-6.23 -27.30 L-4.41 -33.71 L4.38 -33.72 L6.21 -27.30 L14.90 -23.71 L20.72 -26.95 L26.94 -20.74 L23.69 -14.92 L27.30 -6.23 L33.71 -4.41 L33.72 4.38 L27.30 6.21 L23.71 14.90 L26.95 20.72 L20.74 26.94 L14.92 23.69 L6.23 27.30 L4.41 33.71 L-4.38 33.72 L-6.21 27.30 L-14.90 23.71 L-20.72 26.95 L-26.94 20.74 L-23.69 14.92 L-27.30 6.23 L-33.71 4.41 L-33.72 -4.38 L-27.30 -6.21 L-23.71 -14.90 L-26.95 -20.72 L-20.74 -26.94 L-14.92 -23.69Z" transform="matrix(0.866,-0.45,0,0.98,752,300)" fill="#262626"/>
<circle r="21.2" transform="matrix(0.866,-0.45,0,0.92,753.6,301.2)" fill="#242424" stroke="#e0e0e0" stroke-width="0.8"/>
<circle cx="753.3" cy="279.8" r="1.4" fill="#eee"/><circle cx="753.3" cy="322.6" r="1.4" fill="#eee"/>
<text transform="translate(740.5,314) rotate(-34)" font-family="Liberation Sans, sans-serif" font-weight="bold" font-size="10" fill="#ffffff">SCADA</text>
<path d="M831.1 398.5Q831.0 394.5 834.5 392.6L879.6 367.9Q883.1 366.0 883.3 370.0L885.0 396.0Q885.2 400.0 881.7 402.0L835.2 428.6Q831.7 430.6 831.6 426.6Z" fill="#d0d0d0" opacity="0.5"/>
<path d="M829.1 396.5Q829.0 392.5 832.5 390.6L877.6 365.9Q881.1 364.0 881.3 368.0L883.0 394.0Q883.2 398.0 879.7 400.0L833.2 426.6Q829.7 428.6 829.6 424.6Z" fill="#ffffff"/>
<path d="M830.4 426.6 L829.7 396.5 Q829.7 393.0 833.0 391.0 L880.1 364.3" fill="none" stroke="#1f3b95" stroke-width="1.4" stroke-linecap="round"/>
<polygon points="841.5,394.6 873.5,376.5 873.5,384.1 841.5,402.2" fill="#141414"/>
<polygon points="841.5,402.2 873.5,384.1 873.5,391.8 841.5,409.9" fill="#dd1f26"/>
<polygon points="841.5,409.9 873.5,391.8 873.5,399.4 841.5,417.5" fill="#f7c948"/>
<text transform="translate(81,246) rotate(-30.3)" font-family="Liberation Sans, sans-serif" font-size="21.3" fill="#111" stroke="#111" stroke-width="0.5">Vendor Site 2</text>
<text transform="translate(803,566.5) rotate(-30.3)" font-family="Liberation Sans, sans-serif" font-size="21.3" fill="#111" stroke="#111" stroke-width="0.5">Vendor Site 1</text>
</svg></body></html>
